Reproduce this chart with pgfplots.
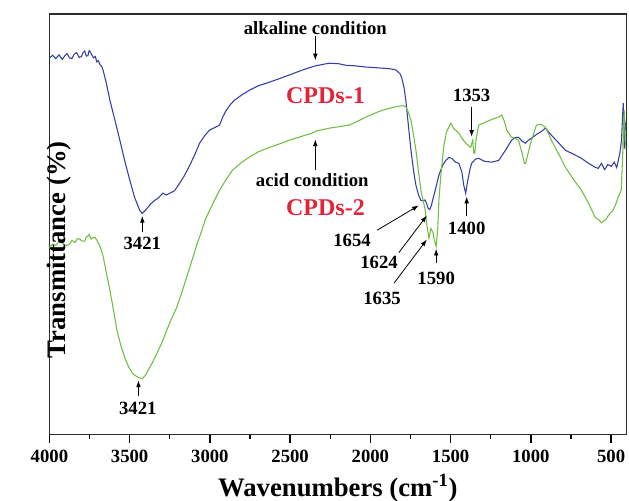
\documentclass[border=0pt]{standalone}
\usepackage{fontspec}
\setmainfont{Liberation Serif}
\usepackage{pgfplots}
\pgfplotsset{compat=1.18}
\usetikzlibrary{arrows.meta}
\definecolor{cblue}{RGB}{52,62,168}
\definecolor{cgreen}{RGB}{112,190,64}
\definecolor{cred}{RGB}{224,36,60}
\definecolor{cframe}{RGB}{45,45,45}

\begin{document}
\begin{tikzpicture}
\begin{axis}[
  width=432pt, height=315pt, scale only axis,
  x dir=reverse, xmin=405, xmax=4000, ymin=0, ymax=100,
  xtick={500,1000,...,4000}, minor x tick num=1,
  ytick=\empty, xtick pos=left,
  tick align=outside,
  major tick length=6pt, minor tick length=3.5pt,
  axis line style={line width=1.2pt, cframe},
  every tick/.style={black, line width=1pt},
  tick label style={font=\fontsize{14}{14}\selectfont\bfseries},
  xticklabel style={yshift=-2pt},
  /pgf/number format/assume math mode=true,
  /pgf/number format/set thousands separator={},
  xlabel={Wavenumbers (cm\textsuperscript{-1})},
  ylabel={Transmittance (\%)},
  every axis y label/.style={at={(rel axis cs:0,0.5)}, rotate=90, xshift=-19pt,
    yshift=-7pt, anchor=center, font=\fontsize{20}{20}\selectfont\bfseries},
  every axis x label/.style={at={(rel axis cs:0.5,0)}, yshift=-40pt, anchor=center,
    font=\fontsize{20}{20}\selectfont\bfseries},
  clip=false,
]
% CPDs-1 (alkaline)
\addplot[cblue, line width=0.8pt] coordinates {
(4000,89.5) (3980,90.2) (3960,89.4) (3940,90.3) (3920,89.2) (3905,90.0) (3890,90.6)
(3875,89.6) (3860,89.4) (3845,90.5) (3830,90.8) (3815,89.7) (3800,89.9) (3790,90.9)
(3780,91.2) (3770,90.0) (3760,90.1) (3752,91.3) (3745,91.0) (3735,90.2) (3725,89.6)
(3714,89.9) (3704,88.6) (3695,88.9) (3685,88.0) (3675,87.6) (3666,86.7)
(3645,83.5) (3623,79.5) (3590,74.5) (3561,70.0) (3530,65.0) (3499,60.5) (3470,56.5)
(3437,53.3) (3421,52.6) (3400,53.4) (3370,54.8) (3344,55.7) (3320,56.3) (3294,57.4)
(3270,57.0) (3250,57.4)
(3220,58.0) (3188,59.8) (3160,61.5) (3126,64.0) (3095,66.5) (3064,69.3) (3030,71.2)
(3002,72.4) (2970,73.0) (2940,73.6) (2920,75.5) (2900,77.0) (2870,78.6) (2847,79.5)
(2800,80.8) (2753,81.9) (2700,82.9) (2629,83.8) (2570,84.6) (2505,85.5) (2430,86.6)
(2350,87.6) (2300,88.0) (2257,88.3) (2200,88.2) (2150,87.8) (2100,87.7) (2027,87.4)
(1950,87.2) (1880,87.0) (1841,86.7) (1815,85.8) (1804,84.8) (1790,82.5) (1779,79.5)
(1763,73.5) (1747,67.6) (1730,62.5) (1716,59.3) (1700,57.0) (1685,55.7) (1670,55.6)
(1660,55.8) (1650,55.0) (1640,53.8) (1630,53.5) (1620,54.5) (1604,56.9) (1590,59.0)
(1573,61.7) (1550,64.0) (1530,65.2) (1510,65.9) (1493,65.7) (1470,64.8) (1449,64.5)
(1430,62.5) (1418,59.3) (1406,57.4) (1395,60.0) (1380,63.0) (1369,64.5) (1345,65.5)
(1325,65.7) (1290,65.0) (1244,64.8) (1200,65.2) (1160,67.5) (1120,70.0) (1100,70.6)
(1077,70.7) (1055,69.8) (1033,69.3) (1015,70.0) (996,70.5) (960,71.5) (930,72.2)
(909,72.9) (890,72.0) (872,71.2) (830,69.5) (785,67.6) (740,66.8) (685,65.7)
(640,64.5) (600,63.6) (580,63.3) (560,64.5) (540,63.0) (520,64.2) (499,63.8)
(480,64.8) (465,63.5) (455,65.2) (445,67.0) (435,70.0) (428,76.0) (424,78.8)
(418,68.0) (412,74.0) (405,72.4)
};
% CPDs-2 (acid)
\addplot[cgreen, line width=0.8pt] coordinates {
(4000,44.5) (3980,45.3) (3960,45.0) (3940,45.9) (3920,45.6) (3900,45.0) (3880,45.1)
(3860,46.2) (3840,45.7) (3825,46.6) (3810,46.5) (3795,46.0) (3780,46.0) (3770,47.0)
(3760,47.2) (3753,47.6) (3740,46.5) (3730,46.8) (3715,46.9) (3704,46.2) (3685,44.8) (3666,42.6) (3645,38.5)
(3623,34.3) (3600,29.5) (3579,24.8) (3555,21.2) (3530,18.3) (3505,16.0) (3480,14.5)
(3455,13.8) (3437,13.5) (3421,13.3) (3400,14.2) (3387,15.2) (3360,17.0) (3331,19.3)
(3300,21.8) (3269,24.8) (3240,27.5) (3207,30.2) (3175,33.8) (3145,37.4) (3115,41.0)
(3083,45.0) (3055,48.0) (3030,51.0) (3002,53.3) (2970,55.8) (2940,58.1) (2900,60.6)
(2859,62.9) (2800,64.8) (2753,66.0) (2700,67.2) (2629,68.3) (2560,69.2) (2505,70.0)
(2430,70.9) (2362,71.7) (2337,72.2) (2250,72.9) (2132,73.6) (2080,74.5) (2027,75.5)
(1980,76.3) (1927,77.1) (1870,77.7) (1822,78.1) (1790,78.2) (1779,77.9) (1765,76.8)
(1747,74.8) (1730,71.0) (1716,67.6) (1700,62.5) (1685,58.1) (1670,55.5) (1660,53.8)
(1648,49.8) (1635,46.7) (1623,49.0) (1610,48.1) (1600,46.0) (1590,44.8) (1580,49.0)
(1573,55.7) (1560,62.0) (1542,68.8) (1525,72.0) (1511,73.1) (1499,74.0) (1480,72.8)
(1449,71.7) (1430,70.5) (1406,69.3) (1375,68.3) (1362,70.0) (1356,67.0) (1350,66.9)
(1340,70.5) (1325,73.6) (1300,74.0) (1281,74.3) (1240,75.0) (1200,75.5) (1181,76.0)
(1165,74.5) (1150,72.4) (1120,70.7) (1100,70.5) (1077,70.0) (1055,67.0) (1040,64.5)
(1033,64.5) (1020,66.5) (996,70.0) (965,73.6) (940,73.8) (909,73.1) (890,71.5)
(872,70.0) (830,67.0) (785,63.6) (740,61.0) (685,58.1) (640,55.0) (600,51.7)
(580,51.2) (560,50.4) (536,51.0) (510,52.5) (490,53.2) (474,54.5) (455,56.5)
(437,58.1) (428,66.0) (422,75.0) (418,77.1) (412,70.0) (405,67.6)
};
% annotations
\tikzset{ann/.style={font=\fontsize{14}{14}\selectfont\bfseries},
         arr/.style={-{Latex[length=5pt,width=3.5pt]}, line width=0.6pt}}
\node[ann] at (2343,96.7) {alkaline condition};
\draw[arr] (2343,94.8) -- (2343,89.0);
\node[font=\fontsize{18}{18}\selectfont\bfseries, text=cred] at (2280,80.7) {CPDs-1};
\node[ann] at (2362,60.5) {acid condition};
\draw[arr] (2343,63.0) -- (2343,70.2);
\node[font=\fontsize{18}{18}\selectfont\bfseries, text=cred] at (2280,54.0) {CPDs-2};
\node[ann] at (3421,45.5) {3421};
\draw[arr] (3421,48.1) -- (3421,52.0);
\node[ann] at (3449,6.2) {3421};
\draw[arr] (3445,9.3) -- (3445,12.9);
\node[ann] at (1369,80.7) {1353};
\draw[arr] (1369,78.0) -- (1369,70.8);
\node[ann] at (1400,49.0) {1400};
\draw[arr] (1400,52.1) -- (1400,56.6);
\node[ann] at (2114,46.2) {1654};
\draw[arr] (1958,48.6) -- (1698,54.5);
\node[ann] at (1946,41.0) {1624};
\draw[arr] (1822,43.3) -- (1648,52.1);
\node[ann] at (1927,32.4) {1635};
\draw[arr] (1853,36.0) -- (1648,46.4);
\node[ann] at (1590,37.1) {1590};
\draw[arr] (1590,40.7) -- (1590,44.2);
\end{axis}
% top and right frame lines as thin filled strips
\fill[cframe] ([shift={(-0.6pt,-0.6pt)}]current axis.north west) rectangle ([shift={(0.6pt,0.6pt)}]current axis.north east);
\fill[cframe] ([shift={(-0.6pt,-0.6pt)}]current axis.south east) rectangle ([shift={(0.6pt,0.6pt)}]current axis.north east);
\pgfresetboundingbox
\path ([shift={(-37pt,-49.5pt)}]current axis.south west) rectangle ([shift={(2pt,10.5pt)}]current axis.north east);
\end{tikzpicture}
\end{document}
